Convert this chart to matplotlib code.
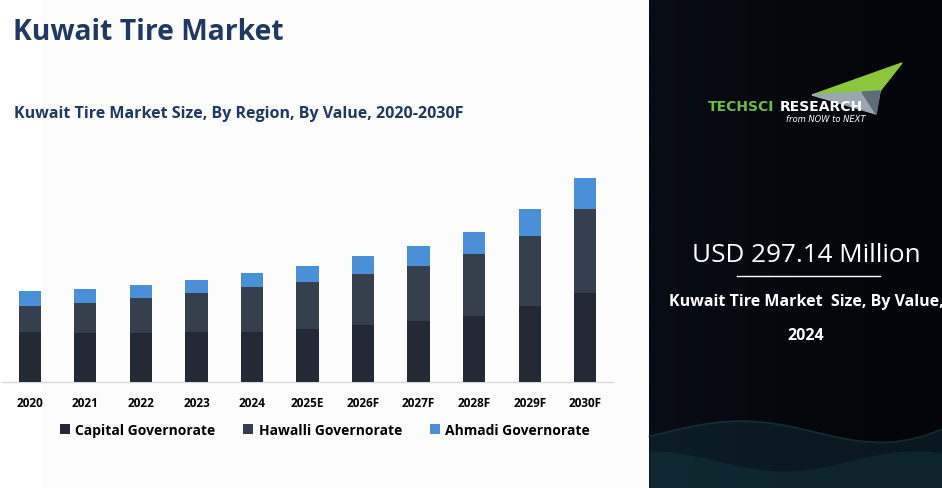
import matplotlib.pyplot as plt
from matplotlib.patches import Polygon, Rectangle
from matplotlib.colors import LinearSegmentedColormap
import numpy as np

# data (USD million)
years = ['2020', '2021', '2022', '2023', '2024', '2025E', '2026F', '2027F', '2028F', '2029F', '2030F']
capital = [135.9, 134.0, 134.0, 135.9, 135.9, 144.1, 155.0, 166.0, 179.6, 207.0, 242.5]
hawalli = [71.9, 81.2, 94.9, 106.6, 123.0, 128.5, 139.4, 150.4, 169.5, 191.4, 229.7]
ahmadi = [41.0, 38.3, 35.5, 35.5, 38.3, 43.7, 49.2, 54.7, 60.1, 73.8, 84.8]
series_names = ['Capital Governorate', 'Hawalli Governorate', 'Ahmadi Governorate']
series_colors = ['#232a36', '#363f4e', '#4a90d9']

W, H = 942, 489
fig = plt.figure(figsize=(W / 100, H / 100), dpi=100)
fig.patch.set_facecolor('#fcfcfd')

def fx(px):
    return px / W

def fy(py):
    return 1 - py / H

# background layer in pixel coords
bg = fig.add_axes([0, 0, 1, 1])
bg.set_xlim(0, W)
bg.set_ylim(H, 0)
bg.axis('off')
bg.add_patch(Rectangle((0, 0), 40, H, color='white', zorder=0))

# dark panel on the right
grad = np.tile(np.linspace(0, 1, 200), (50, 1))
cm = LinearSegmentedColormap.from_list('pan', ['#090d17', '#05070d', '#03050a'])
bg.imshow(grad, extent=(649, W, H, 0), cmap=cm, aspect='auto', zorder=1)

# faint waves at the bottom
xs = np.linspace(649, W, 300)
t = (xs - 649) / (W - 649)
wave1 = 440 - 22 * np.sin(t * 5.5 + 0.3) * (0.4 + t * 0.6) - t * 20
wave2 = 462 - 10 * np.sin(t * 7 + 1.5)
bg.fill_between(xs, wave1, H, color='#12303a', alpha=0.45, lw=0, zorder=2)
bg.fill_between(xs, wave2, H, color='#18434b', alpha=0.3, lw=0, zorder=2)
bg.plot(xs, wave1, color='#24585e', alpha=0.45, lw=1.2, zorder=2)

# logo
bg.add_patch(Polygon([[812, 96], [902, 64], [880, 92]], closed=True, color='#8cc63f', zorder=3))
bg.add_patch(Polygon([[812, 96], [880, 92], [876, 115]], closed=True, color='#9aa7b0', zorder=3))
bg.add_patch(Polygon([[862, 93], [880, 92], [876, 115]], closed=True, color='#5f6d78', zorder=3))
fig.text(fx(708), fy(107), 'TECHSCI', color='#6dbb45', fontsize=10, fontweight='bold',
         family='DejaVu Sans', va='center', ha='left')
fig.text(fx(780), fy(107), 'RESEARCH', color='white', fontsize=10, fontweight='bold',
         family='DejaVu Sans', va='center', ha='left')
fig.text(fx(866), fy(120), 'from NOW to NEXT', color='white', fontsize=6, style='italic',
         family='DejaVu Sans', va='center', ha='right')

# right panel texts
fig.text(fx(806), fy(255), 'USD 297.14 Million', color='white', fontsize=18.8,
         family='Open Sans', ha='center', va='center')
bg.plot([737, 880], [277, 277], color='white', lw=1, zorder=3)
fig.text(fx(806), fy(302), 'Kuwait Tire Market  Size, By Value,', color='white', fontsize=11.5,
         fontweight='bold', family='Open Sans', ha='center', va='center')
fig.text(fx(806), fy(336), '2024', color='white', fontsize=11.5,
         fontweight='bold', family='Open Sans', ha='center', va='center')

# titles
fig.text(fx(13), fy(33), 'Kuwait Tire Market', color='#1f3864', fontsize=20.3,
         fontweight='bold', family='Open Sans', ha='left', va='center')
fig.text(fx(14), fy(114), 'Kuwait Tire Market Size, By Region, By Value, 2020-2030F', color='#1f3864',
         fontsize=11.5, fontweight='bold', family='Open Sans', ha='left', va='center')

# chart
ymax = 640
base_px = 383
top_px = base_px - ymax / 2.734
ax = fig.add_axes([fx(2), fy(base_px), fx(613) - fx(2), (base_px - top_px) / H])
ax.patch.set_alpha(0)
x = np.arange(len(years))
bottom = np.zeros(len(years))
handles = []
for name, vals, col in zip(series_names, [capital, hawalli, ahmadi], series_colors):
    b = ax.bar(x, vals, width=0.4, bottom=bottom, color=col, label=name, zorder=3)
    handles.append(b)
    bottom = bottom + np.array(vals)
ax.set_xlim(-0.5, len(years) - 0.5)
ax.set_ylim(0, ymax)
ax.set_yticks([])
for s in ['top', 'left', 'right']:
    ax.spines[s].set_visible(False)
ax.spines['bottom'].set_color('#d9d9d9')
ax.spines['bottom'].set_linewidth(1)
ax.set_xticks(x)
ax.set_xticklabels(years, fontsize=8.5, fontweight='bold', family='Open Sans', color='black')
ax.tick_params(axis='x', length=0, pad=10)

fig.legend(handles=handles, labels=series_names, loc='center', bbox_to_anchor=(fx(325), fy(431)),
           ncol=3, frameon=False, prop={'family': 'Open Sans', 'weight': 'bold', 'size': 10},
           handlelength=0.7, handleheight=0.7, handletextpad=0.4, columnspacing=2.0)

fig.savefig('out.png', dpi=100, facecolor=fig.get_facecolor())
